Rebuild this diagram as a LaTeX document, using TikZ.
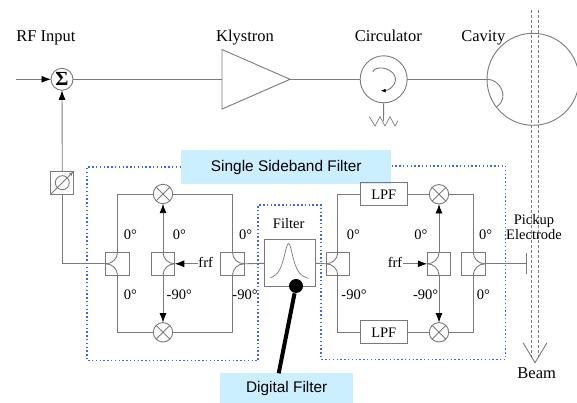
\documentclass[tikz,border=0pt]{standalone}
\usepackage{fontspec}
\setmainfont{Liberation Serif}
\setsansfont{Liberation Sans}
\usetikzlibrary{arrows.meta,shapes.geometric}
\definecolor{Wire}{HTML}{7A7A7A}
\definecolor{Dots}{HTML}{3A6BE0}
\definecolor{Sky}{HTML}{CCEFFF}
\begin{document}
\begin{tikzpicture}[x=1pt,y=1pt,
    line width=.9pt,
    wire/.style={draw=Wire},
    arr/.style={draw=Wire,-{Latex[length=9.5pt,width=7pt,black]}},
    mixer/.style={circle,draw=Wire,inner sep=0pt,outer sep=0pt,minimum size=19.4pt,path picture={\draw[Wire] (path picture bounding box.north west) -- (path picture bounding box.south east) (path picture bounding box.north east) -- (path picture bounding box.south west);}},
    coupler/.style={draw=Wire,inner sep=0pt,outer sep=0pt,minimum width=23.5pt,minimum height=23pt},
    lpf/.style={draw=Wire,inner sep=0pt,outer sep=0pt,minimum width=46.3pt,minimum height=23pt,font=\fontsize{14.5}{15}\selectfont},
    big/.style={font=\fontsize{16.5}{18}\selectfont,anchor=base,inner sep=0pt},
    small/.style={font=\fontsize{14.5}{15}\selectfont,anchor=base,inner sep=0pt},
    tag/.style={fill=Sky,inner sep=0pt,font=\sffamily\fontsize{15.4}{17}\selectfont}
  ]
    \useasboundingbox (0,0) rectangle (577,403);
    % top row
    \coordinate (rfin) at (16,323.7);
    \node[circle,draw=Wire,fill=white,inner sep=0pt,outer sep=0pt,minimum size=22pt,font=\bfseries\fontsize{20}{20}\selectfont] (sum) at (62,323.7) {Σ};
    \node[isosceles triangle,isosceles triangle stretches,draw=Wire,inner sep=0pt,outer sep=0pt,minimum width=59.5pt,minimum height=68pt,anchor=lower side] (kly) at (222,323.7) {};
    \node[circle,draw=Wire,inner sep=0pt,outer sep=0pt,minimum size=47pt] (circ) at (383.7,323.7) {};
    \node[circle,draw=Wire,inner sep=0pt,outer sep=0pt,minimum size=92pt] (cav) at (533,323.7) {};
    \node[big] (rflab) at (46,361.7) {RF Input};
    \node[big] (klylab) at (245,361.7) {Klystron};
    \node[big] (circlab) at (388.3,361.7) {Circulator};
    \node[big] (cavlab) at (483.3,361.7) {Cavity};
    \draw[arr] (rfin) -- (sum);
    \draw[wire] (sum) -- (kly.lower side);
    \draw[wire] (kly.apex) -- (circ);
    \draw[wire] (circ) -- (cav.west);
    \draw[-{Latex[length=5pt,width=4pt,black]},wire] (372.7,331.3) to[out=60,in=90] (395.5,324) to[out=-90,in=0] (380.7,312.3);
    \coordinate (rbase) at (383.5,282);
    \draw[wire] (circ.south) -- (rbase);
    \draw[wire,line width=.7pt] (369.3,286.3) -- (375,277) -- (380,286.3) -- (385,277) -- (390,286.3) -- (395,277) -- (398,282.3);
    \draw[wire] (cav.west) .. controls (500,324) and (510,305) .. (496.7,296.3);
    % beam
    \coordinate (tip) at (535,40.3);
    \draw[wire,densely dashed,line width=.6pt] (531.7,393) -- (531.7,45) (538.3,393) -- (538.3,45);
    \draw[wire] (523,60.3) -- (tip) -- (547,60.3);
    \node[big] (beamlab) at (536.7,24.7) {Beam};
    % sideband filter outline
    \draw[Dots,dash pattern=on 1.5pt off 2.3pt,line width=1.2pt] (181,236) -- (87,236) -- (87,42.3) -- (258,42.3) -- (258,198) -- (321,198) -- (321,43.5) -- (505.5,43.5) -- (505.5,237) -- (391,237);
    \node[tag,minimum width=210pt,minimum height=34pt] (ssb) at (286.3,235.7) {Single Sideband Filter};
    \node[tag,minimum width=133.3pt,minimum height=29.7pt,text depth=2pt] (digi) at (286.7,14.85) {Digital Filter};
    % couplers and mixers
    \node[coupler] (c1) at (117.5,139.2) {};
    \node[coupler] (c2) at (163,139.2) {};
    \node[coupler] (c3) at (232.5,139.2) {};
    \node[coupler] (c4) at (337.8,139.2) {};
    \node[coupler] (c5) at (439,139.2) {};
    \node[coupler] (c6) at (473.3,139.2) {};
    \foreach \c/\s/\o in {c1/west/0,c2/east/180,c3/east/180,c4/west/0,c5/west/0,c6/east/180}{
      \draw[wire] (\c.\s) to[out=\o,in=-90] (\c.north);
      \draw[wire] (\c.\s) to[out=\o,in=90] (\c.south);
    }
    \node[mixer] (m1) at (163,209) {};
    \node[mixer] (m2) at (163,70.7) {};
    \node[mixer] (m3) at (439,208.7) {};
    \node[mixer] (m4) at (439,70.7) {};
    \node[lpf] (lpfa) at (383.8,208.7) {LPF};
    \node[lpf] (lpfb) at (383.8,70.7) {LPF};
    % phase shifter
    \node[draw=Wire,inner sep=0pt,outer sep=0pt,minimum size=23pt] (ps) at (62.3,220.3) {};
    \draw[wire] (ps) circle (7);
    \draw[wire,-{Latex[length=5pt,width=3.5pt]}] (ps.south west) -- (ps.north east);
    \draw[arr] (ps.north) -- (sum.south);
    \draw[wire] (ps.south) |- (c1.west);
    % left box
    \draw[wire] (c1.north) |- (m1.west);
    \draw[wire] (c1.south) |- (m2.west);
    \draw[wire] (c3.north) |- (m1.east);
    \draw[wire] (c3.south) |- (m2.east);
    \draw[arr] (c2.north) -- (m1.south);
    \draw[arr] (c2.south) -- (m2.north);
    \node[small] (frfa) at (205.7,135.5) {frf};
    \draw[arr] (frfa.west |- c2.east) -- (c2.east);
    % filter
    \node[draw=Wire,inner sep=0pt,outer sep=0pt,minimum width=51.4pt,minimum height=46.7pt] (filt) at (290,139.7) {};
    \draw[wire,line width=.7pt] plot[domain=-18:20,samples=50,smooth] ({288.5+\x},{121.5+38/(1+(\x/6)^2)});
    \node[small] (filtlab) at (288.7,174.3) {Filter};
    \node[circle,fill=black,inner sep=0pt,minimum size=14pt] (dot) at (296,117) {};
    \coordinate (dotend) at (278.7,29.7);
    \draw[line width=4pt] (dot) -- (dotend);
    \draw[wire] (c3.east) -- (filt.west);
    \draw[wire] (filt.east) -- (c4.west);
    % right box
    \draw[wire] (c4.north) |- (lpfa.west);
    \draw[wire] (c4.south) |- (lpfb.west);
    \draw[wire] (lpfa.east) -- (m3.west);
    \draw[wire] (lpfb.east) -- (m4.west);
    \draw[wire] (c6.north) |- (m3.east);
    \draw[wire] (c6.south) |- (m4.east);
    \draw[arr] (c5.north) -- (m3.south);
    \draw[arr] (c5.south) -- (m4.north);
    \node[small] (frfb) at (395,135.5) {frf};
    \draw[arr] (frfb.east |- c5.west) -- (c5.west);
    % pickup
    \coordinate (pk) at (526,139.2);
    \draw[wire] (c6.east) -- (pk);
    \draw[wire] (526,129) -- (526,150.3);
    \node[small,anchor=center,align=center] (pklab) at (534,175.5) {Pickup\\Electrode};
    % phase labels
    \foreach \x/\y/\t in {130.3/163.5/0°,179.3/163.5/0°,245.7/163.5/0°,130.3/103/0°,179.3/103/-90°,245/103/-90°,353.3/163.5/0°,421/163.5/0°,485.7/163.5/0°,354/103/-90°,425.7/103/-90°,483.3/103/0°}{
      \node[small] at (\x,\y) {\t};
    }
  \end{tikzpicture}
\end{document}
